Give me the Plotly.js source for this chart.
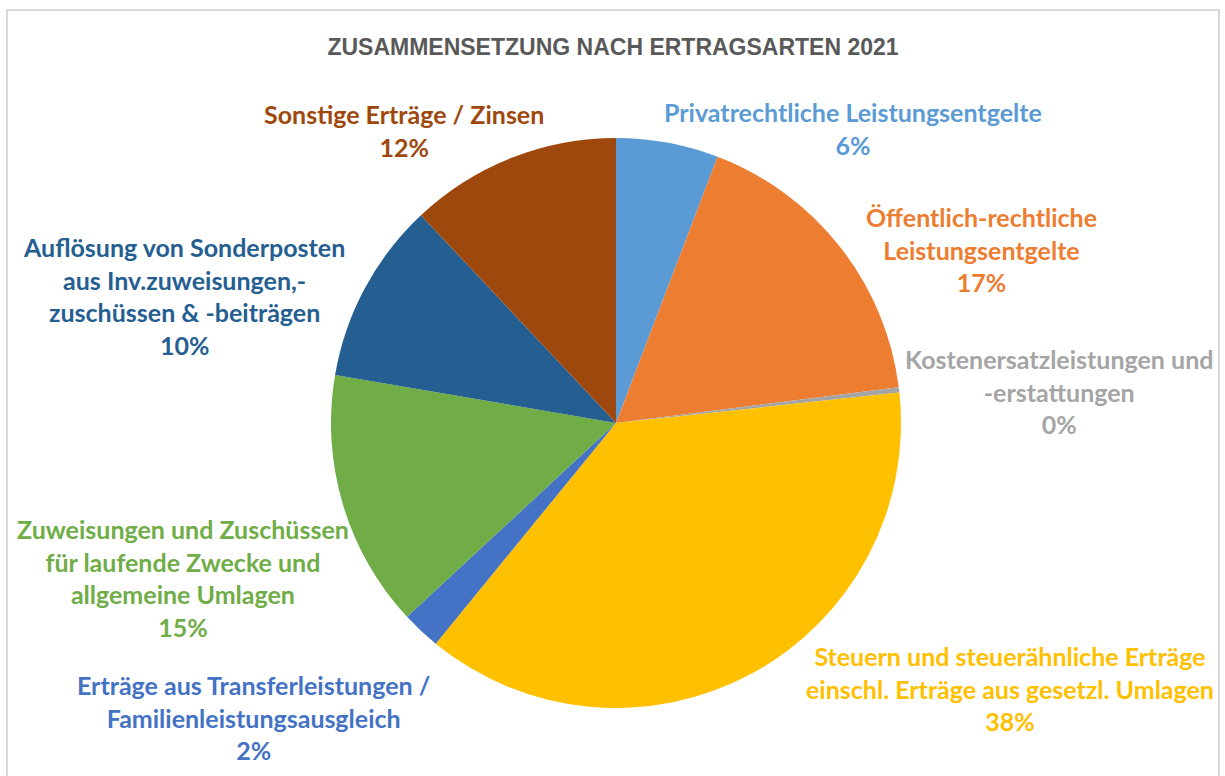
<!DOCTYPE html>
<html>
<head>
<meta charset="utf-8">
<script src="https://cdn.plot.ly/plotly-3.0.1.min.js"></script>
<style>
  html, body { margin: 0; padding: 0; background: #ffffff; }
  #chart { width: 1225px; height: 776px; }
</style>
</head>
<body>
<div id="chart"></div>
<script>
// ---- data ----
const categories = [
  "Privatrechtliche Leistungsentgelte",
  "Öffentlich-rechtliche<br>Leistungsentgelte",
  "Kostenersatzleistungen und<br>-erstattungen",
  "Steuern und steuerähnliche Erträge<br>einschl. Erträge aus gesetzl. Umlagen",
  "Erträge aus Transferleistungen /<br>Familienleistungsausgleich",
  "Zuweisungen und Zuschüssen<br>für laufende Zwecke und<br>allgemeine Umlagen",
  "Auflösung von Sonderposten<br>aus Inv.zuweisungen,-<br>zuschüssen & -beiträgen",
  "Sonstige Erträge / Zinsen"
];
const values = [5.8, 17.2, 0.3, 37.6, 2.2, 14.6, 10.3, 12.0];
const colors = ["#5B9BD5", "#ED7D31", "#A5A5A5", "#FFC000", "#4472C4", "#70AD47", "#255E91", "#9E480E"];
const titleText = "ZUSAMMENSETZUNG NACH ERTRAGSARTEN 2021";

// ---- label placement (pixel centre of first line) ----
const labelX = [853, 981, 1059, 1010, 253, 183, 184, 404];
const labelY = [111, 216, 358, 655, 684, 528, 246, 113];

const W = 1225, H = 776;
const total = values.reduce((a, b) => a + b, 0);
const fontSize = 25;
const lineH = 32.5;

const annotations = categories.map((c, i) => {
  const pct = Math.round(values[i] / total * 100) + "%";
  const text = c + "<br>" + pct;
  return {
    xref: "paper", yref: "paper",
    x: labelX[i] / W,
    y: 1 - (labelY[i] - lineH / 2) / H,
    xanchor: "center", yanchor: "top",
    text: text,
    showarrow: false,
    align: "center",
    font: { family: "Lato, 'Open Sans', sans-serif", size: fontSize, color: colors[i], weight: 700 }
  };
});

const cx = 616, cy = 423, r = 285;

const trace = {
  type: "pie",
  values: values,
  labels: categories.map(c => c.replace(/<br>/g, " ")),
  marker: { colors: colors, line: { width: 0 } },
  sort: false,
  direction: "clockwise",
  rotation: 0,
  textinfo: "none",
  hoverinfo: "label+percent",
  showlegend: false,
  domain: { x: [(cx - r) / W, (cx + r) / W], y: [1 - (cy + r) / H, 1 - (cy - r) / H] }
};

const layout = {
  width: W, height: H,
  margin: { l: 0, r: 0, t: 0, b: 0 },
  paper_bgcolor: "#ffffff",
  title: {
    text: "<b>" + titleText + "</b>",
    x: 613 / W, xanchor: "center",
    y: 1 - 47 / H, yanchor: "middle",
    font: { family: "'Liberation Sans', Arial, sans-serif", size: 23, color: "#595959" }
  },
  annotations: annotations,
  shapes: [{
    type: "rect", xref: "paper", yref: "paper",
    x0: 7 / W, x1: 1219 / W, y0: -0.05, y1: 1 - 10 / H,
    line: { color: "#D9D9D9", width: 2 }, fillcolor: "rgba(0,0,0,0)", layer: "below"
  }]
};

Plotly.newPlot("chart", [trace], layout, { displayModeBar: false, staticPlot: true });
</script>
</body>
</html>
